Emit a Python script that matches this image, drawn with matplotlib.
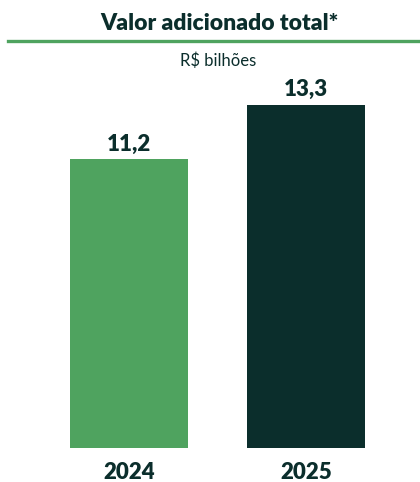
import matplotlib.pyplot as plt
from matplotlib.lines import Line2D

years = ['2024', '2025']
values = [11.2, 13.3]
value_labels = ['11,2', '13,3']
colors = ['#4FA35F', '#0B2E2C']
dark = '#0B2E2C'

plt.rcParams['font.family'] = ['Lato', 'DejaVu Sans']

W, H = 420, 482
fig = plt.figure(figsize=(W / 100, H / 100), dpi=100)

# axes: baseline 34px from bottom, 13.3 reaches 105px from top
ax = fig.add_axes([0, 34 / H, 1, (H - 105 - 34) / H])
x = [0, 1]
ax.bar(x, values, width=0.667, color=colors)
ax.set_xlim(-0.729, 1.644)
ax.set_ylim(0, 13.3)
ax.axis('off')

for xi, v, lab in zip(x, values, value_labels):
    ax.annotate(lab, (xi, v), xytext=(0, 6.3), textcoords='offset points',
                ha='center', va='baseline', fontsize=16, fontweight='heavy', color=dark)

for xi, yr in zip(x, years):
    ax.annotate(yr, (xi, 0), xytext=(0, -22), textcoords='offset points',
                ha='center', va='baseline', fontsize=16, fontweight='heavy', color=dark)

fig.text(219 / W, 1 - 24 / H, 'Valor adicionado total*', ha='center', va='center',
         fontsize=16.5, fontweight='heavy', color=dark)
fig.add_artist(Line2D([8 / W, 1], [1 - 40.5 / H] * 2, transform=fig.transFigure,
                      color='#4FA35F', lw=2.4))
fig.text(218 / W, 1 - 61 / H, 'R$ bilhões', ha='center', va='center',
         fontsize=12, color=dark)

fig.savefig('out.png', dpi=100, facecolor='white')
